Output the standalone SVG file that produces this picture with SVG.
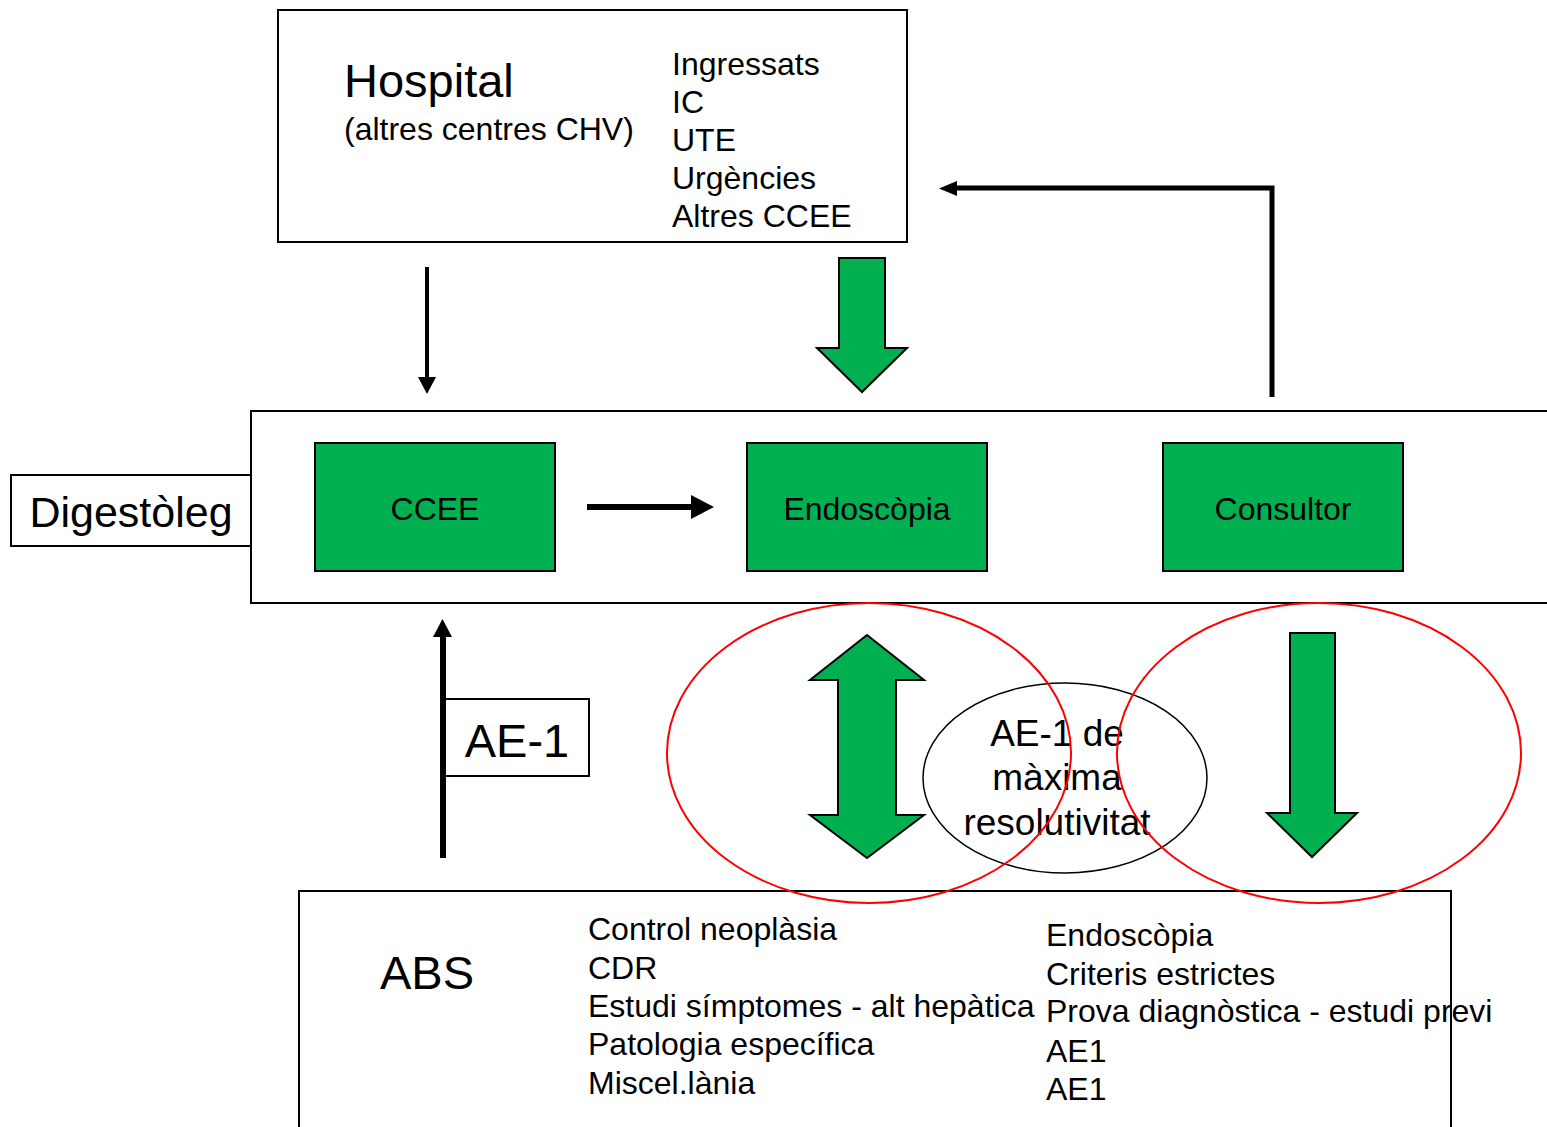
<svg xmlns="http://www.w3.org/2000/svg" width="1547" height="1127" viewBox="0 0 1547 1127">
<style>
text{font-family:"Liberation Sans",Arial,sans-serif;fill:#000}
.box{fill:#fff;stroke:#000;stroke-width:2}
.g{fill:#00B050;stroke:#000;stroke-width:2}
.t32{font-size:32px}
.red{fill:none;stroke:#f00;stroke-width:2}
.ln{fill:none;stroke:#000}
.hd{fill:#000}
</style>

<g id="hospital">
<rect class="box" x="278" y="10" width="629" height="232"/>
<text x="344" y="97" font-size="47">Hospital</text>
<text x="344" y="140" class="t32">(altres centres CHV)</text>
<text x="672" y="75" class="t32">Ingressats</text>
<text x="672" y="113" class="t32">IC</text>
<text x="672" y="151" class="t32">UTE</text>
<text x="672" y="189" class="t32">Urgències</text>
<text x="672" y="227" class="t32">Altres CCEE</text>
</g>

<g id="digestoleg-panel">
<rect class="box" x="251" y="411" width="1310" height="192"/>
</g>
<g id="digestoleg-label">
<rect class="box" x="11" y="475" width="240" height="71"/>
<text x="131" y="527" font-size="43" text-anchor="middle">Digestòleg</text>
</g>

<g id="ccee">
<rect class="g" x="315" y="443" width="240" height="128"/>
<text x="435" y="520" class="t32" text-anchor="middle">CCEE</text>
</g>
<g id="endoscopia">
<rect class="g" x="747" y="443" width="240" height="128"/>
<text x="867" y="520" class="t32" text-anchor="middle">Endoscòpia</text>
</g>
<g id="consultor">
<rect class="g" x="1163" y="443" width="240" height="128"/>
<text x="1283" y="520" class="t32" text-anchor="middle">Consultor</text>
</g>

<g id="abs">
<rect class="box" x="299" y="891" width="1152" height="260"/>
<text x="380" y="989" font-size="47">ABS</text>
<text x="588" y="940" class="t32">Control neoplàsia</text>
<text x="588" y="979" class="t32">CDR</text>
<text x="588" y="1017" class="t32">Estudi símptomes - alt hepàtica</text>
<text x="588" y="1055" class="t32">Patologia específica</text>
<text x="588" y="1094" class="t32">Miscel.lània</text>
<text x="1046" y="946" class="t32">Endoscòpia</text>
<text x="1046" y="985" class="t32">Criteris estrictes</text>
<text x="1046" y="1022" class="t32">Prova diagnòstica - estudi previ</text>
<text x="1046" y="1062" class="t32">AE1</text>
<text x="1046" y="1100" class="t32">AE1</text>
</g>

<g id="ae1-label">
<rect class="box" x="445" y="699" width="144" height="77" stroke-width="1.5"/>
<text x="517" y="757" font-size="47" text-anchor="middle">AE-1</text>
</g>

<g id="ae1-max">
<ellipse cx="1065" cy="778" rx="142" ry="95" fill="none" stroke="#000" stroke-width="1.5"/>
<text x="1057" y="746" font-size="37" text-anchor="middle">AE-1 de</text>
<text x="1057" y="790" font-size="37" text-anchor="middle">màxima</text>
<text x="1057" y="835" font-size="37" text-anchor="middle">resolutivitat</text>
</g>

<g id="connectors">
<line class="ln" x1="427" y1="267" x2="427" y2="378" stroke-width="4"/>
<polygon class="hd" points="418,377 436,377 427,394"/>
<path class="g" d="M839,258H885V348H907L862,392L817,348H839Z"/>
<polyline class="ln" points="1272,397 1272,188 955,188" stroke-width="5"/>
<polygon class="hd" points="957,181 957,196 939,188.5"/>
<line class="ln" x1="587" y1="507" x2="693" y2="507" stroke-width="6"/>
<polygon class="hd" points="691,495 691,519 714,507"/>
<line class="ln" x1="443" y1="858" x2="443" y2="635" stroke-width="6"/>
<polygon class="hd" points="433,637 452,637 442.5,619"/>
<path class="g" d="M867,635L924,680H896V815H924L867,858L810,815H838V680H810Z"/>
<path class="g" d="M1290,633H1335V813H1357L1312,857L1267,813H1290Z"/>
</g>

<g id="highlights">
<ellipse class="red" cx="869" cy="753" rx="202" ry="150"/>
<ellipse class="red" cx="1319" cy="753" rx="202" ry="150"/>
</g>
</svg>
